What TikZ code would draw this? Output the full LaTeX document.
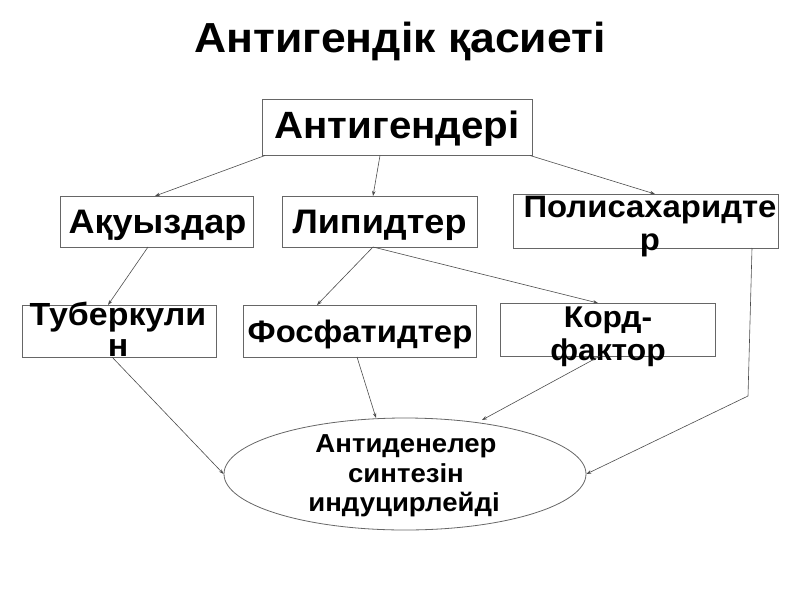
\documentclass[tikz,border=0pt]{standalone}
\usepackage{fontspec}
\setmainfont{Liberation Sans}[FakeStretch=1.06]
\usetikzlibrary{arrows.meta,shapes.geometric}
\begin{document}
\begin{tikzpicture}[x=1pt,y=-1pt,
  box/.style={draw=black!60,line width=0.8pt,rectangle,inner sep=0pt},
  txt/.style={font=\bfseries\fontsize{31}{36}\selectfont,anchor=base,inner sep=0pt},
  etxt/.style={font=\bfseries\fontsize{26}{30}\selectfont,anchor=base,inner sep=0pt},
  conn/.style={draw=black!70,line width=0.6pt,-{Stealth[length=5pt,width=3.5pt]}}]
\useasboundingbox (0,0) rectangle (800,600);
\node[font=\bfseries\fontsize{42}{48}\selectfont,anchor=base,inner sep=0pt] (title) at (400,52) {Антигендік қасиеті};
% boxes
\node[box,minimum width=270pt,minimum height=56pt] (root) at (397,127.5) {};
\node[box,minimum width=193pt,minimum height=51pt] (aq) at (157,221.5) {};
\node[box,minimum width=195pt,minimum height=51pt] (lip) at (379.5,221.5) {};
\node[box,minimum width=265pt,minimum height=54pt] (pol) at (646,221) {};
\node[box,minimum width=194pt,minimum height=52pt] (tub) at (119,331) {};
\node[box,minimum width=233pt,minimum height=52pt] (fos) at (359.5,331) {};
\node[box,minimum width=215pt,minimum height=53pt] (kord) at (608,329.5) {};
\node[draw=black!60,line width=0.8pt,ellipse,minimum width=362pt,minimum height=112pt,inner sep=0pt] (ell) at (405,474) {};
% texts
\node[txt,font=\bfseries\fontsize{38}{44}\selectfont] (roott) at (397,138) {Антигендері};
\node[txt,font=\bfseries\fontsize{34}{36}\selectfont] (aqt) at (157.5,233) {Ақуыздар};
\node[txt,font=\bfseries\fontsize{34}{36}\selectfont] (lipt) at (379.5,233) {Липидтер};
\node[txt] (polt1) at (650,217) {Полисахаридте};
\node[txt] (polt2) at (650,250) {р};
\node[txt,font=\bfseries\fontsize{32}{36}\selectfont] (tubt1) at (118,325) {Туберкули};
\node[txt,font=\bfseries\fontsize{32}{36}\selectfont] (tubt2) at (118,356) {н};
\node[txt] (fost) at (360,342) {Фосфатидтер};
\node[txt,font=\bfseries\fontsize{30}{36}\selectfont] (kordt1) at (608,327) {Корд-};
\node[txt,font=\bfseries\fontsize{30}{36}\selectfont] (kordt2) at (608,360) {фактор};
\node[etxt] (ellt1) at (406,452) {Антиденелер};
\node[etxt] (ellt2) at (406,482) {синтезін};
\node[etxt] (ellt3) at (404,511) {индуцирлейді};
% connectors
\coordinate (r1) at (265,155.5);
\coordinate (r2) at (380,155.5);
\coordinate (r3) at (530,155.5);
\coordinate (a1) at (148,247);
\coordinate (l1) at (373,247);
\coordinate (p1) at (752,248);
\coordinate (p2) at (748,396);
\coordinate (t1) at (112,357);
\coordinate (f1) at (357,357);
\coordinate (k1) at (600,356);
\draw[conn] (r1) -- (155,196) coordinate (aqin);
\draw[conn] (r2) -- (373,196) coordinate (lipin);
\draw[conn] (r3) -- (655,194) coordinate (polin);
\draw[conn] (a1) -- (108,305) coordinate (tubin);
\draw[conn] (l1) -- (317,305) coordinate (fosin);
\draw[conn] (l1) -- (598,303) coordinate (kordin);
\draw[conn] (t1) -- (ell.west);
\draw[conn] (f1) -- (376,418);
\draw[conn] (k1) -- (482,420);
\draw[conn] (p1) -- (p2) -- (ell.east);
\end{tikzpicture}
\end{document}
